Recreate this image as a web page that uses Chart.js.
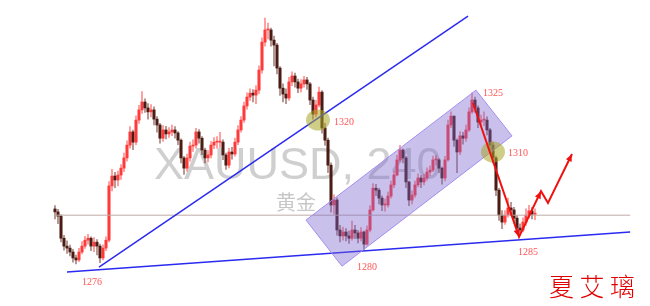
<!DOCTYPE html>
<html>
<head>
<meta charset="utf-8">
<script src="https://cdn.jsdelivr.net/npm/chart.js@4/dist/chart.umd.min.js"></script>
<style>
  html, body { margin: 0; padding: 0; background: #fff; }
  #wrap { width: 650px; height: 306px; }
</style>
</head>
<body>
<div id="wrap"><canvas id="chart"></canvas></div>
<script>
// XAUUSD 240 candles (close / high / low), open = previous close
var firstOpen = 1292.5;
var closes = [
  1291.6,1290.3,1283.6,1281.2,1280.6,1279.4,1277.6,1277.0,1279.4,1281.2,
  1283.0,1283.6,1281.2,1282.4,1281.2,1277.6,1280.6,1283.0,1299.5,1302.5,
  1301.3,1302.8,1304.9,1308.0,1311.9,1315.9,1312.8,1319.5,1322.6,1325.0,
  1323.2,1322.0,1322.6,1319.8,1318.0,1314.0,1316.5,1315.3,1315.9,1316.5,
  1315.6,1313.4,1308.0,1304.9,1308.0,1311.6,1311.9,1315.9,1314.0,1310.4,
  1308.0,1308.9,1311.9,1312.8,1312.8,1312.8,1308.9,1305.8,1309.8,1309.2,
  1312.8,1316.5,1319.5,1323.8,1326.5,1327.7,1327.1,1328.6,1334.7,1343.2,
  1346.9,1346.9,1343.8,1342.3,1335.3,1329.2,1327.4,1326.2,1331.1,1332.9,
  1331.1,1329.2,1330.5,1331.7,1330.5,1325.6,1321.3,1324.1,1328.0,1317.1,
  1313.4,1305.8,1293.7,1295.2,1286.1,1284.3,1285.5,1284.3,1283.6,1286.1,
  1285.2,1283.6,1285.5,1281.8,1286.1,1292.2,1298.8,1298.2,1295.8,1293.7,
  1293.7,1296.4,1299.8,1302.8,1307.4,1310.4,1308.0,1300.7,1295.2,1296.7,
  1299.8,1301.9,1300.7,1301.9,1303.7,1304.3,1307.4,1307.4,1304.9,1301.9,
  1307.4,1318.0,1320.7,1313.4,1309.8,1314.7,1314.0,1316.5,1322.0,1325.6,
  1323.2,1318.9,1319.5,1319.5,1316.5,1311.9,1308.0,1298.2,1290.6,1288.5,
  1290.6,1292.8,1292.2,1289.7,1286.7,1286.1,1288.5,1290.6,1291.9,1290.9,
  1290.9
];
var highs = [
  1293.5,1292.4,1290.8,1284.5,1282.8,1281.5,1280.2,1278.5,1280.5,1282.6,
  1284.2,1284.8,1284.0,1283.8,1283.2,1281.8,1281.6,1284.0,1300.8,1304.5,
  1303.6,1304.0,1306.0,1309.5,1313.2,1317.5,1316.5,1320.8,1324.0,1328.2,
  1326.0,1324.5,1324.2,1323.5,1320.6,1318.5,1317.8,1317.6,1317.2,1318.0,
  1317.5,1316.0,1313.8,1308.5,1309.2,1312.8,1313.5,1317.0,1316.6,1314.5,
  1311.0,1310.2,1313.0,1314.2,1314.5,1315.8,1313.5,1309.5,1311.0,1311.2,
  1314.0,1317.8,1320.6,1325.0,1327.8,1329.0,1328.8,1330.0,1336.0,1344.5,
  1350.5,1349.0,1347.5,1345.0,1342.8,1335.8,1330.5,1329.0,1332.5,1334.2,
  1333.8,1332.0,1331.8,1332.8,1332.5,1331.0,1326.5,1325.5,1329.5,1328.5,
  1318.5,1314.0,1306.5,1296.8,1295.8,1287.5,1287.0,1286.5,1285.8,1288.8,
  1287.5,1286.0,1286.8,1285.8,1287.4,1293.5,1300.2,1300.0,1298.8,1296.5,
  1295.5,1297.6,1301.0,1304.0,1308.8,1311.8,1310.8,1308.5,1301.0,1298.0,
  1301.0,1303.2,1302.6,1303.0,1305.0,1305.6,1308.6,1308.8,1307.8,1305.2,
  1308.5,1319.5,1322.0,1320.8,1313.8,1316.0,1315.8,1318.0,1323.2,1327.8,
  1326.5,1323.8,1321.0,1322.0,1320.5,1317.0,1312.8,1308.6,1298.8,1292.0,
  1292.0,1295.8,1294.5,1293.0,1290.5,1288.0,1289.8,1292.5,1293.6,1293.0,
  1292.5
];
var lows = [
  1289.5,1288.0,1282.5,1280.0,1279.0,1278.2,1276.3,1275.8,1276.5,1278.8,
  1280.5,1281.8,1279.8,1279.5,1278.5,1276.2,1277.0,1279.8,1282.5,1298.0,
  1299.0,1299.5,1301.5,1303.8,1307.0,1311.0,1310.5,1312.0,1318.5,1321.5,
  1321.8,1319.8,1320.5,1318.0,1315.8,1312.5,1313.0,1313.8,1314.2,1314.8,
  1314.0,1312.0,1306.5,1303.0,1304.0,1307.0,1310.0,1311.0,1312.5,1309.0,
  1306.5,1306.8,1308.0,1310.8,1311.0,1311.2,1307.5,1304.5,1305.0,1307.6,
  1308.5,1312.0,1315.8,1318.8,1322.8,1325.5,1325.0,1324.5,1327.5,1333.8,
  1342.0,1344.2,1342.0,1336.0,1333.5,1327.0,1325.0,1324.5,1325.5,1330.0,
  1329.5,1327.8,1328.0,1329.5,1328.8,1324.2,1319.8,1320.5,1323.5,1315.5,
  1311.8,1303.5,1291.5,1291.0,1284.5,1282.5,1283.0,1282.8,1282.0,1283.0,
  1283.5,1282.2,1282.8,1280.0,1281.5,1285.5,1291.8,1296.5,1294.0,1292.0,
  1291.8,1293.0,1295.8,1299.0,1302.5,1306.8,1306.5,1299.0,1293.5,1294.0,
  1296.0,1299.2,1299.0,1299.8,1301.2,1302.5,1303.8,1305.8,1303.5,1300.0,
  1301.0,1307.0,1317.2,1311.5,1303.5,1309.0,1312.2,1313.0,1316.0,1321.5,
  1321.8,1317.2,1317.5,1317.8,1315.0,1310.2,1306.5,1296.5,1289.0,1286.5,
  1287.8,1290.0,1290.5,1288.2,1285.2,1284.8,1285.5,1287.5,1289.8,1289.5,
  1289.2
];

// drawing annotations, in candle index / price units
var supportLine = [[4, 1273.3], [191.7, 1285.5]];
var trendLine = [[14.67, 1274.8], [137.67, 1351.1]];
var priceLine = [[0, 1290.6], [191.7, 1290.6]];
var channel = [[83.67, 1289.1], [140.33, 1328.6], [152.33, 1314.7], [95.67, 1275.1]];
var circles = [[87.67, 1319.5], [146, 1309.8]];
var arrowPath = [[139.33, 1324.7], [154.67, 1284.0], [162, 1297.9], [164.33, 1294.3], [172.33, 1309.2]];
var arrowTips = [1, 2, 4];
var priceLabels = [
  ['1276', 9.0, 1270.3],
  ['1320', 93.0, 1318.9],
  ['1325', 142.7, 1327.7],
  ['1310', 151.0, 1309.5],
  ['1280', 100.7, 1274.8],
  ['1285', 154.3, 1279.4]
];

var opens = closes.map(function (c, i) { return i === 0 ? firstOpen : closes[i - 1]; });
var up = closes.map(function (c, i) { return c >= opens[i]; });

var wickData = closes.map(function (c, i) {
  return { x: i, y: [Math.min(lows[i], opens[i], c), Math.max(highs[i], opens[i], c)] };
});
var bodyData = closes.map(function (c, i) { return { x: i, y: [opens[i], c] }; });

function pts(arr) { return arr.map(function (p) { return { x: p[0], y: p[1] }; }); }

var overlay = {
  id: 'overlay',
  beforeDatasetsDraw: function (chart) {
    var ctx = chart.ctx;
    ctx.save();
    ctx.fillStyle = 'rgba(175,175,175,0.6)';
    ctx.font = '45px "Liberation Sans", Arial, sans-serif';
    ctx.textBaseline = 'alphabetic';
    ctx.fillText('XAUUSD, 240', 154, 179);
    ctx.fillStyle = 'rgba(175,175,175,0.7)';
    ctx.font = '20px "Noto Sans CJK SC", sans-serif';
    ctx.fillText('黄金', 276, 210);
    ctx.restore();
  },
  afterDatasetsDraw: function (chart) {
    var ctx = chart.ctx, xs = chart.scales.x, ys = chart.scales.y;
    function px(p) { return [xs.getPixelForValue(p[0]), ys.getPixelForValue(p[1])]; }
    ctx.save();
    // channel
    ctx.beginPath();
    channel.forEach(function (p, i) {
      var q = px(p);
      if (i === 0) ctx.moveTo(q[0], q[1]); else ctx.lineTo(q[0], q[1]);
    });
    ctx.closePath();
    ctx.fillStyle = 'rgba(120,100,205,0.40)';
    ctx.fill();
    ctx.strokeStyle = '#a58cf0';
    ctx.lineWidth = 1;
    ctx.stroke();

    // olive circles
    ctx.fillStyle = 'rgba(165,165,40,0.55)';
    circles.forEach(function (c) {
      var q = px(c);
      ctx.beginPath();
      ctx.ellipse(q[0], q[1], 12, 10.5, 0, 0, Math.PI * 2);
      ctx.fill();
    });

    // red arrows
    ctx.strokeStyle = '#f01010';
    ctx.fillStyle = '#f01010';
    ctx.lineWidth = 2;
    ctx.beginPath();
    arrowPath.forEach(function (p, i) {
      var q = px(p);
      if (i === 0) ctx.moveTo(q[0], q[1]); else ctx.lineTo(q[0], q[1]);
    });
    ctx.stroke();
    arrowTips.forEach(function (k) {
      var a = px(arrowPath[k - 1]), b = px(arrowPath[k]);
      var ang = Math.atan2(b[1] - a[1], b[0] - a[0]);
      ctx.beginPath();
      ctx.moveTo(b[0], b[1]);
      ctx.lineTo(b[0] - 8 * Math.cos(ang - 0.4), b[1] - 8 * Math.sin(ang - 0.4));
      ctx.lineTo(b[0] - 8 * Math.cos(ang + 0.4), b[1] - 8 * Math.sin(ang + 0.4));
      ctx.closePath();
      ctx.fill();
    });

    // price labels
    ctx.fillStyle = '#ff5555';
    ctx.font = '10px "Liberation Serif", "DejaVu Serif", serif';
    ctx.textAlign = 'left';
    ctx.textBaseline = 'middle';
    priceLabels.forEach(function (l) {
      var q = px([l[1], l[2]]);
      ctx.fillText(l[0], q[0], q[1]);
    });

    // signature
    ctx.fillStyle = '#e00000';
    ctx.font = '300 25px "Noto Sans CJK SC", sans-serif';
    ctx.textBaseline = 'alphabetic';
    ctx.fillText('夏 艾 璃', 549, 296);
    ctx.restore();
  }
};

new Chart(document.getElementById('chart'), {
  data: {
    datasets: [
      {
        type: 'bar', order: 6, data: wickData, grouped: false, barThickness: 1.3,
        backgroundColor: up.map(function (u) { return u ? 'rgba(255,80,80,0.55)' : 'rgba(110,50,40,0.5)'; })
      },
      {
        type: 'bar', order: 5, data: bodyData, grouped: false, barThickness: 2.4, minBarLength: 1,
        backgroundColor: up.map(function (u) { return u ? '#ff3a3a' : '#4a1c14'; })
      },
      {
        type: 'line', order: 4, data: pts(priceLine), borderColor: '#bfaaa4', borderWidth: 1,
        pointRadius: 0
      },
      {
        type: 'line', order: 3, data: pts(supportLine), borderColor: '#2a2af0', borderWidth: 1.5,
        pointRadius: 0
      },
      {
        type: 'line', order: 3, data: pts(trendLine), borderColor: '#2a2af0', borderWidth: 1.5,
        pointRadius: 0
      }
    ]
  },
  options: {
    responsive: true,
    maintainAspectRatio: false,
    animation: false,
    layout: { padding: 0, autoPadding: false },
    plugins: { legend: { display: false }, tooltip: { enabled: false } },
    scales: {
      x: { type: 'linear', min: -18.33, max: 198.33, display: false, offset: false },
      y: { min: 1263, max: 1356, display: false }
    }
  },
  plugins: [overlay]
});
</script>
</body>
</html>
